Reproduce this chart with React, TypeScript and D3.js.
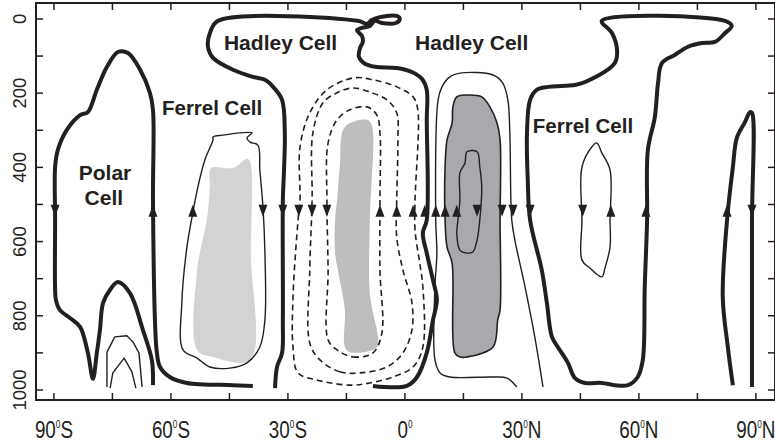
import React from 'react';
import * as d3 from 'd3';

// axis ticks and labels
const latTicks = [-90, -75, -60, -45, -30, -15, 0, 15, 30, 45, 60, 75, 90];
const latLabels = [
  { lat: -90, deg: '90', hemi: 'S' },
  { lat: -60, deg: '60', hemi: 'S' },
  { lat: -30, deg: '30', hemi: 'S' },
  { lat: 0, deg: '0', hemi: '' },
  { lat: 30, deg: '30', hemi: 'N' },
  { lat: 60, deg: '60', hemi: 'N' },
  { lat: 90, deg: '90', hemi: 'N' }
];
const pressureTicks = [0, 100, 200, 300, 400, 500, 600, 700, 800, 900, 1000];
const pressureLabels = [0, 200, 400, 600, 800, 1000];

// contours as [latitude, pressure hPa]
const polarSouthZero = [
  [-64.6, 987], [-64.9, 919], [-67.2, 838], [-70.5, 739], [-73.6, 709], [-75.6, 730],
  [-77.4, 765], [-78.2, 838], [-79, 900], [-80, 970], [-81.3, 900], [-83.3, 830],
  [-85.9, 806], [-88.5, 784], [-89.5, 757], [-89.7, 730], [-89.7, 542], [-89.7, 399],
  [-89, 353], [-86.7, 299], [-83.3, 259], [-81.3, 251], [-79, 191], [-76.4, 129],
  [-73.6, 89], [-71, 92], [-67.9, 137], [-65.4, 199], [-64.6, 245], [-64.6, 488],
  [-64.1, 811], [-63.6, 900], [-62.8, 938], [-60.3, 965], [-55.9, 981], [-44.1, 987],
  [-39, 989]
];
const polarSouthInner1 = [
  [-76.4, 992], [-76.4, 898], [-74.4, 857], [-71.3, 854], [-69.7, 871], [-68.2, 900], [-67.4, 992]
];
const polarSouthInner2 = [
  [-75.6, 995], [-74.9, 954], [-72, 914], [-70, 951], [-69, 995]
];
const ferrelSouthInner = [
  [-49.2, 318], [-46.7, 313], [-42.3, 307], [-39.2, 307], [-40.5, 321], [-39.7, 332],
  [-37.7, 340], [-37.2, 407], [-36.4, 507], [-35.9, 631], [-35.9, 811], [-37.2, 884],
  [-40.5, 927], [-44.9, 941], [-50, 938], [-53.3, 914], [-56.9, 892], [-57.2, 765],
  [-55.9, 615], [-54.4, 523], [-53.1, 453], [-51.3, 380], [-49.2, 326]
];
const ferrelSouthShade = [
  [-49.7, 402], [-44.1, 402], [-40.5, 377], [-39.7, 385], [-39.5, 631], [-39.7, 919],
  [-49.2, 911], [-53.3, 892], [-53.3, 677], [-52.6, 631], [-50.8, 542], [-50, 453]
];
const hadleySouthZero = [
  [-33.3, 995], [-32.8, 938], [-31.5, 900], [-31.3, 811], [-31.3, 488], [-31, 407],
  [-30.8, 307], [-31.5, 218], [-33.8, 183], [-35.9, 164], [-39, 156], [-44.1, 137],
  [-49.2, 105], [-50.5, 75], [-50, 38], [-47.9, 5], [-12.1, 5], [-9.7, 13], [-8.5, 3],
  [-6.4, -5], [-2.1, -8], [-1.3, 0], [-2.3, 11], [-5.9, 11], [-7.7, 5], [-9, 19],
  [-11, 24], [-12.3, 30], [-11, 46], [-10.8, 62], [-11.5, 78], [-11.8, 102], [-10.5, 119],
  [-7.7, 129], [-2.1, 132], [1.8, 143], [4.4, 162], [5.6, 191], [5.6, 272], [5.6, 542],
  [4.6, 577], [5.6, 631], [7.2, 704], [8.2, 757], [7.2, 811], [5.6, 900], [3.1, 965],
  [0.5, 989], [-8.2, 989]
];
const hadleySouthDash1 = [
  [-27.4, 954], [-22.6, 973], [-14.1, 987], [-9, 981], [-3.1, 965], [2.1, 938],
  [4.6, 884], [4.6, 722], [3.8, 658], [2.6, 569], [2.6, 488], [3.3, 245], [2.1, 210],
  [-2.1, 183], [-8.2, 164], [-13.3, 159], [-20, 191], [-24.4, 253], [-26.9, 345],
  [-26.9, 488], [-27.4, 542], [-28.7, 749], [-28.7, 884]
];
const hadleySouthDash2 = [
  [-21.8, 919], [-16.7, 951], [-11.5, 954], [-4.6, 938], [-0.5, 900], [1.8, 838],
  [1.8, 765], [-0.5, 677], [-2.1, 588], [-2.1, 488], [-1.8, 326], [-2.1, 253],
  [-4.6, 218], [-9, 197], [-13.3, 186], [-17.4, 199], [-21, 226], [-23.6, 307],
  [-23.8, 488], [-24.4, 677], [-24.4, 873]
];
const hadleySouthDash3 = [
  [-17.4, 892], [-13.3, 911], [-8.2, 900], [-5.9, 846], [-6.4, 677], [-6.4, 488],
  [-6.4, 307], [-7.2, 259], [-9.7, 237], [-14.1, 245], [-17.4, 272], [-19.7, 334],
  [-20, 488], [-19.7, 677], [-19.7, 865]
];
const hadleySouthShade = [
  [-15.4, 291], [-9.7, 272], [-8.5, 286], [-9, 542], [-9, 739], [-6.9, 879], [-8.2, 892],
  [-14.1, 898], [-15.4, 884], [-15.4, 784], [-16.7, 704], [-17.9, 631], [-17.9, 542],
  [-17.4, 488], [-16.7, 399]
];
const hadleyNorthOuter = [
  [28.7, 992], [26.2, 968], [22.6, 965], [11.5, 965], [9, 954], [7.7, 919], [7.7, 722],
  [8.2, 631], [7.9, 542], [8.5, 218], [9.5, 183], [11.5, 156], [14.1, 146], [22.6, 151],
  [25.1, 173], [26.4, 218], [26.9, 307], [27.4, 542], [28.2, 596], [30.8, 722],
  [33.3, 857], [35.4, 992]
];
const hadleyNorthShade = [
  [13.3, 210], [15.9, 205], [19.7, 210], [21.8, 237], [23.6, 280], [24.4, 326],
  [24.4, 542], [24.4, 784], [23.8, 811], [22.6, 884], [15.9, 911], [14.1, 911],
  [12.8, 900], [12.1, 658], [10.8, 615], [10.3, 542], [10.3, 399], [10.8, 326],
  [12.1, 280], [12.3, 237]
];
const hadleyNorthInner = [
  [15.9, 358], [18.5, 358], [19.2, 399], [19.7, 453], [19.2, 542], [18.5, 596],
  [17.4, 628], [15.9, 631], [14.1, 623], [13.3, 577], [13.6, 542], [14.1, 488],
  [14.1, 415], [15.4, 388]
];
const ferrelNorthZero = [
  [50.5, 5], [82.1, 5], [83.8, 19], [82.1, 38], [79.5, 62], [76.2, 65], [72.6, 75],
  [69.2, 97], [65.9, 119], [64.9, 173], [64.1, 264], [62.3, 353], [62.1, 542],
  [61.5, 722], [61, 919], [59.7, 965], [57.2, 987], [53.8, 987], [50.5, 981],
  [46.2, 981], [43.6, 968], [41.8, 927], [39.2, 884], [37.7, 857], [36.4, 765],
  [35.1, 677], [32.1, 542], [31.5, 434], [31.3, 307], [32.1, 218], [33.8, 191],
  [36.7, 183], [43.6, 178], [46.2, 170], [53.8, 119], [54.4, 84], [53.1, 38]
];
const ferrelNorthInner = [
  [49.2, 334], [50.5, 361], [52.6, 407], [52.6, 542], [52.6, 615], [51.3, 671],
  [50.5, 695], [47.4, 671], [45.4, 650], [45.4, 542], [45.4, 399], [47.9, 345]
];
const polarNorthZero = [
  [84.1, 987], [82.8, 884], [81.5, 749], [82.6, 542], [84.1, 399], [85.1, 321],
  [87.2, 278], [88.5, 251], [89, 253], [89, 542], [89, 992]
];

// flow direction arrows along 517 hPa
const arrowLats = [-89.7, -64.6, -54.4, -36.4, -31.3, -27.2, -23.8, -20, -6.4, -2.1, 2.1,
  5.1, 7.9, 10.3, 13.3, 18.5, 24.9, 27.7, 32.1, 45.6, 52.8, 61.8, 82.6, 89];
const arrowDirs = ['down', 'up', 'up', 'down', 'down', 'down', 'down', 'down', 'up', 'up', 'up',
  'up', 'up', 'up', 'up', 'down', 'down', 'down', 'down', 'down', 'up', 'up', 'up', 'down'];
const arrowLevel = 517;

const cellNames = ['Polar', 'Cell', 'Ferrel Cell', 'Hadley Cell', 'Hadley Cell', 'Ferrel Cell'];
const cellLats = [-76.9, -77.2, -62.3, -46.4, 2.6, 32.8];
const cellLevels = [434, 501, 259, 84, 84, 307];

const INK = '#231f20';

export default function App() {
  const width = 775;
  const height = 445;
  const x = d3.scaleLinear().domain([-94.6, 94.9]).range([36, 775]);
  const y = d3.scaleLinear().domain([-43, 1027]).range([3, 400]);

  const mk = (curve: any) =>
    d3.line<number[]>().x(d => x(d[0])).y(d => y(d[1])).curve(curve);
  const smooth = mk(d3.curveCatmullRom.alpha(0.5));
  const smoothClosed = mk(d3.curveCatmullRomClosed.alpha(0.5));
  const straight = mk(d3.curveLinear);

  const shades = [
    { pts: ferrelSouthShade, fill: '#d1d3d4' },
    { pts: hadleySouthShade, fill: '#bcbec0' },
    { pts: hadleyNorthShade, fill: '#a7a9ac' }
  ];

  const lines = [
    { d: smooth(polarSouthZero), w: 4, dash: null },
    { d: straight(polarSouthInner1), w: 1.4, dash: null },
    { d: straight(polarSouthInner2), w: 1.4, dash: null },
    { d: smoothClosed(ferrelSouthInner), w: 1.4, dash: null },
    { d: smooth(hadleySouthZero), w: 4, dash: null },
    { d: smoothClosed(hadleySouthDash1), w: 1.6, dash: '6,4' },
    { d: smoothClosed(hadleySouthDash2), w: 1.6, dash: '6,4' },
    { d: smoothClosed(hadleySouthDash3), w: 1.6, dash: '6,4' },
    { d: smooth(hadleyNorthOuter), w: 1.4, dash: null },
    { d: smoothClosed(hadleyNorthShade), w: 1.6, dash: null },
    { d: smoothClosed(hadleyNorthInner), w: 1.4, dash: null },
    { d: smoothClosed(ferrelNorthZero), w: 4, dash: null },
    { d: smoothClosed(ferrelNorthInner), w: 1.4, dash: null },
    { d: smooth(polarNorthZero), w: 4, dash: null }
  ];

  const x0 = x.range()[0];
  const x1 = x.range()[1];
  const y0 = y.range()[0];
  const y1 = y.range()[1];
  const tick = 7;

  return (
    <svg
      width={width}
      height={height}
      style={{ position: 'absolute', left: 0, top: 0, display: 'block', background: '#fff' }}
      fontFamily="'Liberation Sans', Arial, sans-serif"
    >
      {shades.map((s, i) => (
        <path key={'s' + i} d={smoothClosed(s.pts) || ''} fill={s.fill} stroke="none" />
      ))}
      {lines.map((l, i) => (
        <path
          key={'l' + i}
          d={l.d || ''}
          fill="none"
          stroke={INK}
          strokeWidth={l.w}
          strokeDasharray={l.dash || undefined}
          strokeLinejoin="round"
        />
      ))}
      {arrowLats.map((lat, i) => {
        const cx = x(lat);
        const cy = y(arrowLevel);
        const d = arrowDirs[i] === 'down'
          ? `M${cx - 4.5},${cy - 6}L${cx + 4.5},${cy - 6}L${cx},${cy + 6}Z`
          : `M${cx - 4.5},${cy + 6}L${cx + 4.5},${cy + 6}L${cx},${cy - 6}Z`;
        return <path key={'a' + i} d={d} fill={INK} />;
      })}
      {cellNames.map((name, i) => (
        <text
          key={'c' + i}
          x={x(cellLats[i])}
          y={y(cellLevels[i])}
          textAnchor={i < 2 ? 'middle' : 'start'}
          fontWeight="bold"
          fontSize={i === 2 || i === 5 ? 20.5 : 21}
          fill={INK}
        >
          {name}
        </text>
      ))}

      {/* frame */}
      <rect x={x0} y={y0} width={x1 - x0} height={y1 - y0} fill="none" stroke={INK} strokeWidth={2} />
      {latTicks.map(t => (
        <g key={'lt' + t}>
          <line x1={x(t)} x2={x(t)} y1={y1} y2={y1 - tick} stroke={INK} strokeWidth={1.5} />
          <line x1={x(t)} x2={x(t)} y1={y0} y2={y0 + tick} stroke={INK} strokeWidth={1.5} />
        </g>
      ))}
      {pressureTicks.map(t => (
        <g key={'pt' + t}>
          <line x1={x0} x2={x0 + tick} y1={y(t)} y2={y(t)} stroke={INK} strokeWidth={1.5} />
          <line x1={x1} x2={x1 - tick} y1={y(t)} y2={y(t)} stroke={INK} strokeWidth={1.5} />
        </g>
      ))}
      {latLabels.map(l => (
        <text
          key={'ll' + l.lat}
          transform={`translate(${x(l.lat)},438) scale(0.82,1)`}
          textAnchor="middle"
          fontSize={23}
          fill={INK}
        >
          <tspan>{l.deg}</tspan>
          <tspan dy={-10} fontSize={10}>0</tspan>
          <tspan dy={10}>{l.hemi}</tspan>
        </text>
      ))}
      {pressureLabels.map(p => (
        <text
          key={'pl' + p}
          transform={`translate(26,${y(p)}) rotate(-90)`}
          textAnchor="middle"
          fontSize={18.5}
          fill={INK}
        >
          {p}
        </text>
      ))}
    </svg>
  );
}
